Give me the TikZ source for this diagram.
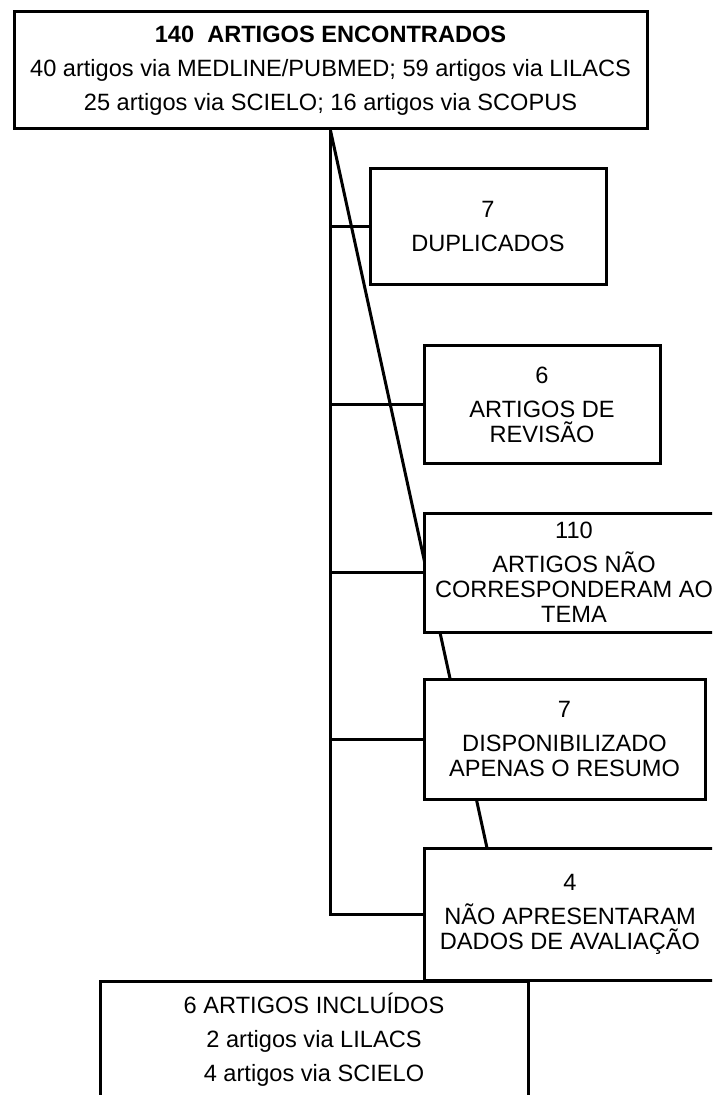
\documentclass[tikz,border=0pt]{standalone}
\usepackage{fontspec}
\setmainfont{Liberation Sans}
\usetikzlibrary{backgrounds}
\begin{document}
\begin{tikzpicture}[x=0.5pt,y=-0.5pt]
    \tikzstyle{caixa} = [rectangle, draw, line width=1.5pt, fill=white, align=center, inner sep=0pt, font=\fontsize{11.8pt}{12.5pt}\selectfont]
    \tikzstyle{linha} = [line width=1.5pt]

    \useasboundingbox (0,0) rectangle (712,1095);
    \clip (0,0) rectangle (712,1095);

    \node [caixa, minimum width=316.5pt, minimum height=58.5pt] (total) at (330.5,70.5) {\textbf{140~ ARTIGOS ENCONTRADOS}\\[4.5pt]40 artigos via MEDLINE/PUBMED; 59 artigos via LILACS\\[4.5pt]25 artigos via SCIELO; 16 artigos via SCOPUS};
    \node [caixa, minimum width=118pt, minimum height=58pt] (dup) at (488,227) {7\\[4.5pt]DUPLICADOS};
    \node [caixa, minimum width=118pt, minimum height=59pt] (rev) at (542,405) {6\\[4.5pt]ARTIGOS DE\\REVISÃO};
    \node [caixa, minimum width=150pt, minimum height=59.5pt] (tema) at (574,572.5) {110\\[4.5pt]ARTIGOS NÃO\\CORRESPONDERAM AO\\TEMA};
    \node [caixa, minimum width=140.5pt, minimum height=60pt] (resumo) at (564.5,739) {7\\[4.5pt]DISPONIBILIZADO\\APENAS O RESUMO};
    \node [caixa, minimum width=146pt, minimum height=66pt] (aval) at (570,914) {4\\[4.5pt]NÃO APRESENTARAM\\DADOS DE AVALIAÇÃO};
    \node [caixa, minimum width=214pt, minimum height=59pt] (incl) at (314,1040) {6 ARTIGOS INCLUÍDOS\\[4.5pt]2 artigos via LILACS\\[4.5pt]4 artigos via SCIELO};

    \coordinate (fim) at (487,848);

    \begin{scope}[on background layer]
        \draw [linha] (total.south) |- (aval.west);
        \foreach \n in {dup, rev, tema, resumo}
            \draw [linha] (\n.west) -- (\n.west -| total.south);
        \draw [linha] (total.south) -- (fim);
    \end{scope}
\end{tikzpicture}
\end{document}
